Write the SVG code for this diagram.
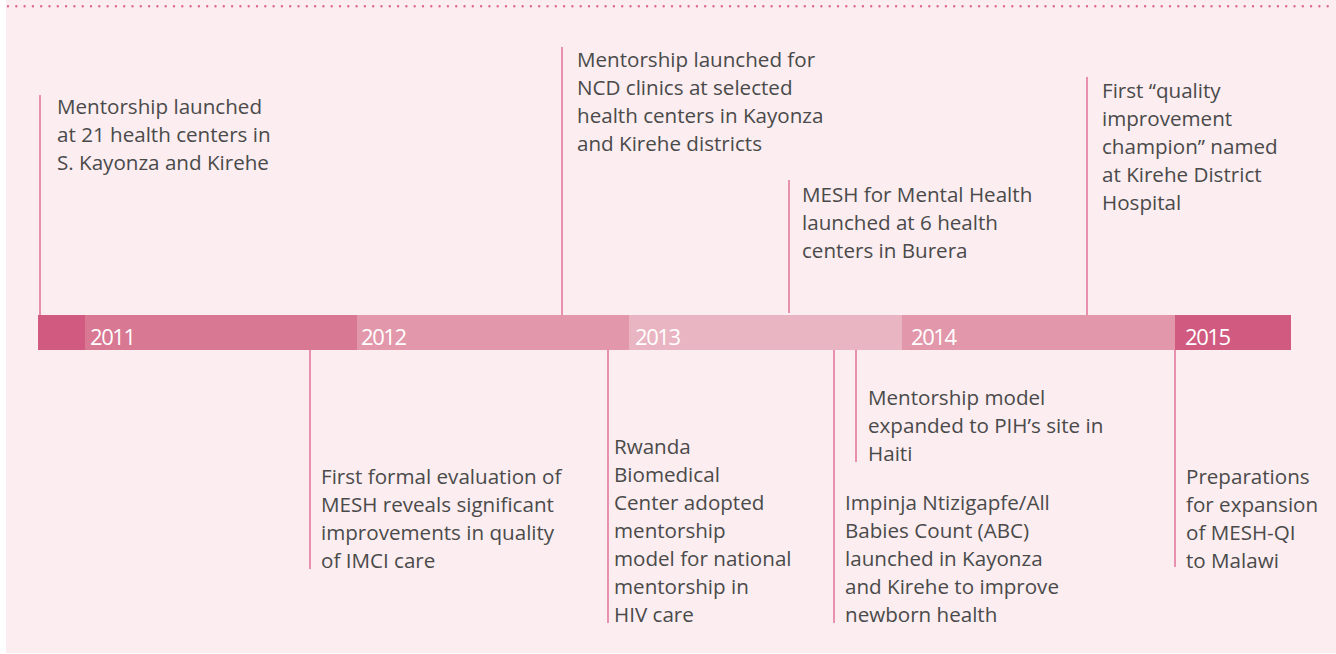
<svg xmlns="http://www.w3.org/2000/svg" width="1336" height="654" viewBox="0 0 1336 654">
  <style>
    .note { font-family: "Open Sans", "Noto Sans", sans-serif; font-size: 20.6px; fill: #4a4a4a; }
    .year { font-family: "Open Sans", "Noto Sans", sans-serif; font-size: 22px; fill: #ffffff; letter-spacing: -1.4px; }
    .tick { stroke: #e0709a; stroke-width: 1.5; fill: none; }
  </style>

  <!-- page background and dotted rule -->
  <rect x="0" y="0" width="1336" height="654" fill="#ffffff"/>
  <rect x="6" y="0" width="1330" height="653" fill="#fbedf0"/>
  <line x1="8" y1="6.3" x2="1336" y2="6.3" stroke="#df6690" stroke-width="2.4" stroke-linecap="round" stroke-dasharray="0 8.3"/>

  <!-- timeline bar -->
  <g id="bar">
    <rect x="38" y="315" width="47" height="35" fill="#d05a80"/>
    <rect x="85" y="315" width="272" height="35" fill="#d87892"/>
    <rect x="357" y="315" width="272" height="35" fill="#e297aa"/>
    <rect x="629" y="315" width="273" height="35" fill="#eab5c2"/>
    <rect x="902" y="315" width="273" height="35" fill="#e297aa"/>
    <rect x="1175" y="315" width="116" height="35" fill="#d05a80"/>
    <text class="year" x="90" y="345">2011</text>
    <text class="year" x="361" y="345">2012</text>
    <text class="year" x="635" y="345">2013</text>
    <text class="year" x="911" y="345">2014</text>
    <text class="year" x="1185" y="345">2015</text>
  </g>

  <!-- connectors from events to the bar -->
  <g id="connectors">
    <line class="tick" x1="40" y1="95" x2="40" y2="315"/>
    <line class="tick" x1="310" y1="350" x2="310" y2="569"/>
    <line class="tick" x1="562" y1="47" x2="562" y2="315"/>
    <line class="tick" x1="608" y1="350" x2="608" y2="623"/>
    <line class="tick" x1="789" y1="180" x2="789" y2="313"/>
    <line class="tick" x1="834" y1="350" x2="834" y2="623"/>
    <line class="tick" x1="856" y1="350" x2="856" y2="462"/>
    <line class="tick" x1="1087" y1="77" x2="1087" y2="315"/>
    <line class="tick" x1="1175" y1="350" x2="1175" y2="567"/>
  </g>

  <!-- events above the bar -->
  <g id="event-2011-launch">
    <text class="note" x="57" y="114">Mentorship launched</text>
    <text class="note" x="57" y="142">at 21 health centers in</text>
    <text class="note" x="57" y="170">S. Kayonza and Kirehe</text>
  </g>
  <g id="event-ncd">
    <text class="note" x="577" y="67">Mentorship launched for</text>
    <text class="note" x="577" y="95">NCD clinics at selected</text>
    <text class="note" x="577" y="123">health centers in Kayonza</text>
    <text class="note" x="577" y="151">and Kirehe districts</text>
  </g>
  <g id="event-mental-health">
    <text class="note" x="802" y="202">MESH for Mental Health</text>
    <text class="note" x="802" y="230">launched at 6 health</text>
    <text class="note" x="802" y="258">centers in Burera</text>
  </g>
  <g id="event-qi-champion">
    <text class="note" x="1102" y="98">First “quality</text>
    <text class="note" x="1102" y="126">improvement</text>
    <text class="note" x="1102" y="154">champion” named</text>
    <text class="note" x="1102" y="182">at Kirehe District</text>
    <text class="note" x="1102" y="210">Hospital</text>
  </g>

  <!-- events below the bar -->
  <g id="event-evaluation">
    <text class="note" x="321" y="484">First formal evaluation of</text>
    <text class="note" x="321" y="512">MESH reveals significant</text>
    <text class="note" x="321" y="540">improvements in quality</text>
    <text class="note" x="321" y="568">of IMCI care</text>
  </g>
  <g id="event-rbc">
    <text class="note" x="614" y="454">Rwanda</text>
    <text class="note" x="614" y="482">Biomedical</text>
    <text class="note" x="614" y="510">Center adopted</text>
    <text class="note" x="614" y="538">mentorship</text>
    <text class="note" x="614" y="566">model for national</text>
    <text class="note" x="614" y="594">mentorship in</text>
    <text class="note" x="614" y="622">HIV care</text>
  </g>
  <g id="event-abc">
    <text class="note" x="845" y="510">Impinja Ntizigapfe/All</text>
    <text class="note" x="845" y="538">Babies Count (ABC)</text>
    <text class="note" x="845" y="566">launched in Kayonza</text>
    <text class="note" x="845" y="594">and Kirehe to improve</text>
    <text class="note" x="845" y="622">newborn health</text>
  </g>
  <g id="event-haiti">
    <text class="note" x="868" y="405">Mentorship model</text>
    <text class="note" x="868" y="433">expanded to PIH’s site in</text>
    <text class="note" x="868" y="461">Haiti</text>
  </g>
  <g id="event-malawi">
    <text class="note" x="1186" y="484">Preparations</text>
    <text class="note" x="1186" y="512">for expansion</text>
    <text class="note" x="1186" y="540">of MESH-QI</text>
    <text class="note" x="1186" y="568">to Malawi</text>
  </g>
</svg>
